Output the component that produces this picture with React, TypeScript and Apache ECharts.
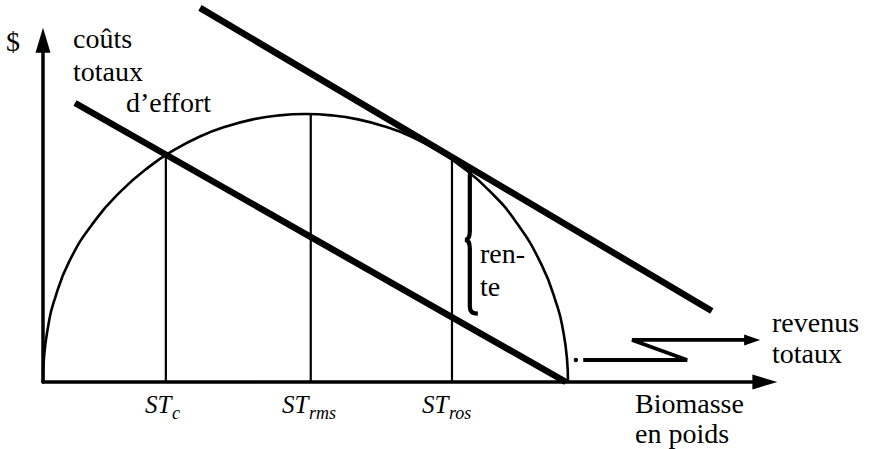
import React, { useEffect, useRef } from "react";
import * as echarts from "echarts";

// ---- data (value units on the chart's own axes) ----
const revenueX = [0, 0.02, 0.1, 0.2, 0.5, 1, 1.5, 2, 2.5, 3, 3.5, 4, 4.5, 5, 5.5, 6, 6.5, 7, 7.5, 8, 8.5, 9, 9.5, 9.8, 9.9, 9.98, 10];
const revenueY = [0, 0.95, 2.1, 2.95, 4.5, 6.05, 7.15, 8.0, 8.66, 9.17, 9.54, 9.8, 9.95, 10, 9.95, 9.8, 9.54, 9.17, 8.66, 8.0, 7.14, 6.0, 4.36, 2.8, 1.99, 0.89, 0];
const costLine = [[0.61, 10.41], [9.96, 0]];
const upperLine = [[2.99, 13.96], [12.74, 2.65]];
const stX = [2.34, 5.1, 7.79];
const stTop = [8.47, 10.0, 8.3];
const stMain = ["ST", "ST", "ST"];
const stSub = ["c", "rms", "ros"];
const braceSpan = [8.13, 7.95, 5.3, 2.55]; // x, top, middle, bottom
const zigzag = [[10.29, 0.82], [12.27, 0.82], [11.22, 1.57], [13.4, 1.57]];
const zigzagTip = [13.66, 1.57];
const zigzagDot = [10.15, 0.82];

const labelTexts = ["$", "coûts", "totaux", "d\u2019effort", "ren-", "te", "revenus", "totaux", "Biomasse", "en poids"];

// ---- layout ----
const labelPos = [
  [6, 41.5], [73, 39], [73, 71.5], [126, 102.5], [480, 253.5], [480, 286.5],
  [772, 322.5], [772, 353.5], [635, 403.5], [635, 433.5],
];
const stMainLeft = [145, 282, 422];
const stSubLeft = [172, 309, 449];

const FAMILY = "Liberation Serif";

export default function App() {
  const ref = useRef<HTMLDivElement>(null);

  useEffect(() => {
    document.body.style.margin = "0";
    if (!ref.current) return;
    const chart = echarts.init(ref.current, null, { renderer: "svg" });

    const lineBase: any = {
      type: "line",
      symbol: "none",
      clip: false,
      silent: true,
      animation: false,
    };

    // texts are placed by titles (left/top in pixels), whose textStyle supports fontFamily
    const titles: any[] = [];
    const mkTitle = (text: string, x: number, yCenter: number, size: number, italic: boolean) => ({
      text,
      left: x,
      top: yCenter - size * 0.6,
      padding: 0,
      itemGap: 0,
      textStyle: {
        color: "#000",
        fontSize: size,
        lineHeight: size * 1.2,
        fontFamily: FAMILY,
        fontStyle: italic ? "italic" : "normal",
        fontWeight: "normal",
      },
    });
    labelTexts.forEach((t, i) => {
      titles.push(mkTitle(t, labelPos[i][0], labelPos[i][1], 28, false));
    });
    stMain.forEach((t, i) => {
      titles.push(mkTitle(t, stMainLeft[i], 404.5, 25, true));
      titles.push(mkTitle(stSub[i], stSubLeft[i], 413, 18, true));
    });

    const option: any = {
      animation: false,
      backgroundColor: "#fff",
      textStyle: { fontFamily: FAMILY },
      title: titles,
      grid: { left: 43, top: 40.3, width: 721.875, height: 341.7 },
      xAxis: {
        type: "value",
        min: 0,
        max: 13.75,
        axisLine: {
          show: true,
          symbol: ["none", "triangle"],
          symbolSize: [15, 25],
          lineStyle: { color: "#000", width: 3.5 },
        },
        axisTick: { show: false },
        axisLabel: { show: false },
        splitLine: { show: false },
      },
      yAxis: {
        type: "value",
        min: 0,
        max: 12.75,
        axisLine: {
          show: true,
          symbol: ["none", "triangle"],
          symbolSize: [15, 25],
          lineStyle: { color: "#000", width: 3.5 },
        },
        axisTick: { show: false },
        axisLabel: { show: false },
        splitLine: { show: false },
      },
      series: [
        {
          ...lineBase,
          name: "revenus totaux",
          data: revenueX.map((x, i) => [x, revenueY[i]]),
          smooth: 0.5,
          lineStyle: { color: "#000", width: 2.6 },
          z: 2,
        },
        ...stX.map((x, i) => ({
          ...lineBase,
          name: stMain[i] + stSub[i],
          data: [[x, 0], [x, stTop[i]]],
          lineStyle: { color: "#000", width: 2.2 },
          z: 2,
        })),
        {
          ...lineBase,
          name: "coûts totaux d'effort",
          data: costLine,
          lineStyle: { color: "#000", width: 6.5 },
          z: 3,
        },
        {
          ...lineBase,
          name: "prix",
          data: upperLine,
          lineStyle: { color: "#000", width: 6.5 },
          z: 3,
        },
        {
          type: "custom",
          name: "rente",
          silent: true,
          z: 4,
          data: [braceSpan],
          renderItem: (_p: any, api: any) => {
            const t = api.coord([braceSpan[0], braceSpan[1]]);
            const m = api.coord([braceSpan[0], braceSpan[2]]);
            const b = api.coord([braceSpan[0], braceSpan[3]]);
            const X = t[0];
            const d =
              `M ${X + 3} ${t[1]} Q ${X} ${t[1]} ${X} ${t[1] + 7} ` +
              `L ${X} ${m[1] - 9} Q ${X} ${m[1]} ${X - 5} ${m[1]} ` +
              `Q ${X} ${m[1]} ${X} ${m[1] + 9} ` +
              `L ${X} ${b[1] - 7} Q ${X} ${b[1]} ${X + 8} ${b[1]}`;
            return {
              type: "path",
              shape: { pathData: d },
              style: { fill: "none", stroke: "#000", lineWidth: 4.2 },
            };
          },
        },
        {
          type: "custom",
          name: "revenus totaux flèche",
          silent: true,
          z: 4,
          data: [zigzagDot],
          renderItem: (_p: any, api: any) => {
            const pts = zigzag.map((p) => api.coord(p));
            const tip = api.coord(zigzagTip);
            const dot = api.coord(zigzagDot);
            return {
              type: "group",
              children: [
                {
                  type: "circle",
                  shape: { cx: dot[0], cy: dot[1], r: 2.2 },
                  style: { fill: "#000" },
                },
                {
                  type: "polyline",
                  shape: { points: pts },
                  style: { fill: "none", stroke: "#000", lineWidth: 3.8 },
                },
                {
                  type: "polygon",
                  shape: {
                    points: [
                      [tip[0], tip[1]],
                      [tip[0] - 16, tip[1] - 5.5],
                      [tip[0] - 16, tip[1] + 5.5],
                    ],
                  },
                  style: { fill: "#000" },
                },
              ],
            };
          },
        },
      ],
    };

    chart.setOption(option);
    return () => chart.dispose();
  }, []);

  return (
    <div
      ref={ref}
      style={{ position: "fixed", left: 0, top: 0, width: 876, height: 449, background: "#fff" }}
    />
  );
}
